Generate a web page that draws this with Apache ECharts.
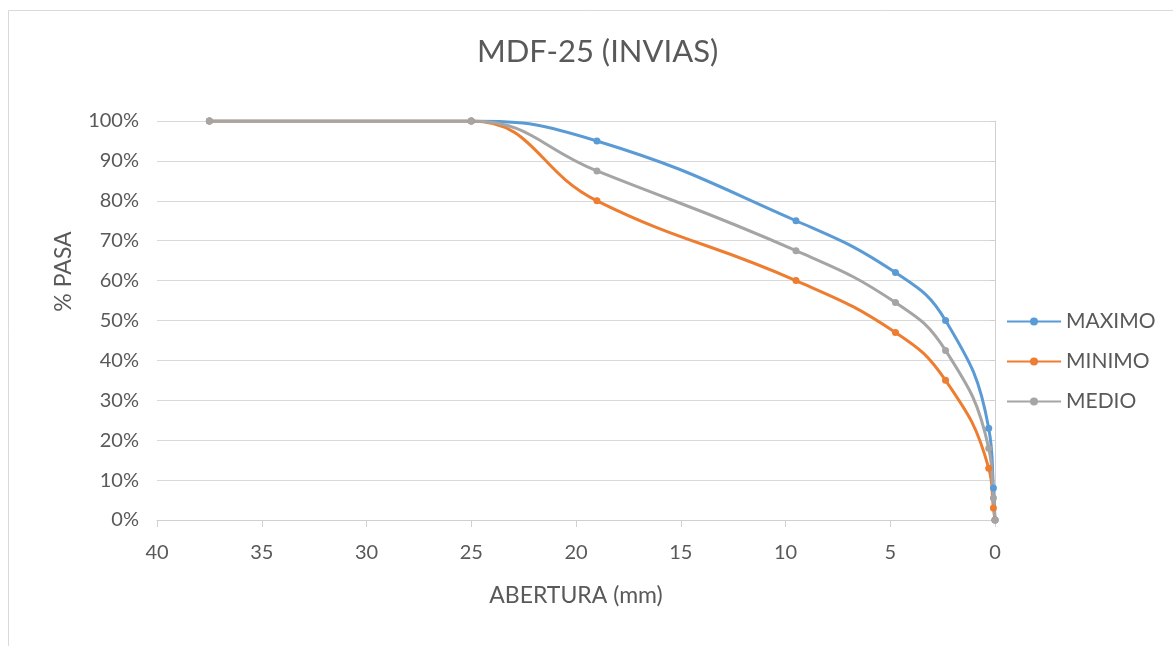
<!DOCTYPE html>
<html>
<head>
<meta charset="utf-8">
<title>MDF-25 (INVIAS)</title>
<script src="https://cdn.jsdelivr.net/npm/echarts@6/dist/echarts.min.js"></script>
<style>
  html, body { margin: 0; padding: 0; background: #fff; }
  #chart { width: 1173px; height: 646px; }
</style>
</head>
<body>
<div id="chart"></div>
<script>
// abertura de tamices (mm) y % que pasa
const abertura = [37.5, 25, 19, 9.5, 4.75, 2.36, 0.3, 0.075, 0];
const maximo = [100, 100, 95, 75, 62, 50, 23, 8, 0];
const minimo = [100, 100, 80, 60, 47, 35, 13, 3, 0];
const medio = [100, 100, 87.5, 67.5, 54.5, 42.5, 18, 5.5, 0];
const seriesNames = ["MAXIMO", "MINIMO", "MEDIO"];
const colores = ["#5b9bd5", "#ed7d31", "#a5a5a5"];

const txt = "#595959";
const font = "Lato";

function pares(vals) {
  return abertura.map((a, i) => [a, vals[i]]);
}

function serie(name, vals, color) {
  return {
    name: name,
    type: "line",
    data: pares(vals),
    smooth: 0.45,
    symbol: "circle",
    symbolSize: 7,
    lineStyle: { width: 3, color: color },
    itemStyle: { color: color },
    animation: false
  };
}

let myChart = echarts.init(document.getElementById("chart"));
myChart.setOption({
  backgroundColor: "#fff",
  textStyle: { fontFamily: font },
  title: {
    text: "MDF-25 (INVIAS)",
    left: 472,
    top: 31,
    textStyle: { fontFamily: font, fontSize: 31, fontWeight: "normal", color: txt }
  },
  graphic: [{
    type: "rect",
    shape: { x: 8.5, y: 10.5, width: 1300, height: 800 },
    style: { fill: "none", stroke: "#d9d9d9", lineWidth: 1 },
    silent: true
  }],
  grid: { left: 157, right: 178, top: 121, bottom: 126 },
  legend: {
    orient: "vertical",
    left: 1001,
    top: 306,
    itemWidth: 54,
    itemHeight: 10,
    itemGap: 19,
    data: seriesNames,
    textStyle: { fontFamily: font, fontSize: 21, color: txt }
  },
  xAxis: {
    type: "value",
    inverse: true,
    min: 0,
    max: 40,
    interval: 5,
    name: "ABERTURA (mm)",
    nameLocation: "middle",
    nameGap: 64,
    nameTextStyle: { fontFamily: font, fontSize: 23, color: txt },
    axisLine: { show: true, onZero: false, lineStyle: { color: "#d0d0d0", width: 1 } },
    axisTick: { show: true, length: 7, lineStyle: { color: "#d0d0d0" } },
    axisLabel: { fontFamily: font, fontSize: 20, color: txt, margin: 23 },
    splitLine: { show: false }
  },
  yAxis: {
    type: "value",
    min: 0,
    max: 100,
    interval: 10,
    name: "% PASA",
    nameLocation: "middle",
    nameGap: 82,
    nameTextStyle: { fontFamily: font, fontSize: 23, color: txt, padding: [0, 0, 0, 98] },
    axisLine: { show: true, lineStyle: { color: "#d0d0d0", width: 1 } },
    axisTick: { show: true, length: 5, lineStyle: { color: "#d0d0d0" } },
    axisLabel: { fontFamily: font, fontSize: 20, color: txt, margin: 18, formatter: "{value}%" },
    splitLine: { show: true, lineStyle: { color: "#d9d9d9", width: 1 } }
  },
  series: [
    serie(seriesNames[0], maximo, colores[0]),
    serie(seriesNames[1], minimo, colores[1]),
    serie(seriesNames[2], medio, colores[2])
  ]
});
</script>
</body>
</html>
